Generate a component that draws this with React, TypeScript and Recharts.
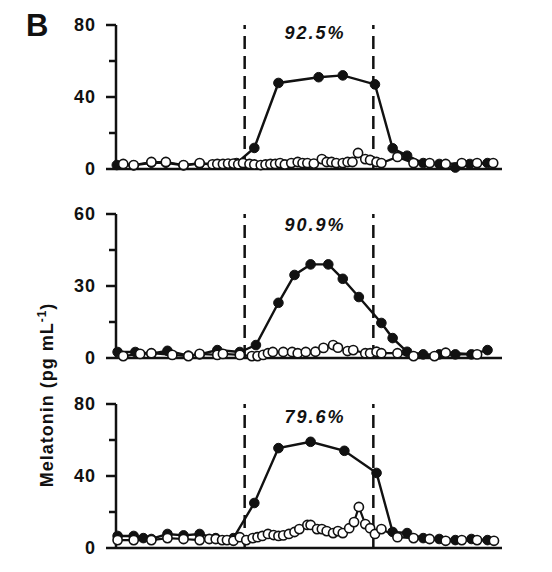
import { Line, LineChart, ReferenceLine, XAxis, YAxis } from "recharts";

// clock hours across the 24 h record, lights off 8 -> 16
const hourTicks = [0, 4, 8, 12, 16, 20, 24];
const darkStart = 8;
const darkEnd = 16;

// panel 1 (suppression 92.5%)
const p1OpenHour = [0.45, 1.1, 2.2, 3.1, 4.2, 5.2, 6.0, 6.3, 6.65, 6.97, 7.3, 7.6, 7.9, 8.3, 8.6, 9.0, 9.3, 9.6, 9.9, 10.2, 10.5, 10.9, 11.3, 11.6, 11.9, 12.3, 12.8, 13.1, 13.4, 13.7, 14.1, 14.4, 14.7, 15.05, 15.5, 15.8, 16.2, 16.5, 17.5, 18.5, 19.5, 20.5, 21.5, 22.45, 23.45];
const p1OpenVal = [2.8, 2.2, 3.9, 3.9, 2.2, 3.3, 2.6, 2.8, 2.8, 3.0, 3.0, 2.6, 3.3, 2.8, 2.5, 2.2, 2.5, 2.8, 2.8, 3.3, 2.5, 3.3, 3.9, 3.3, 3.3, 3.0, 5.5, 3.9, 3.9, 3.3, 3.3, 3.9, 3.9, 8.9, 5.5, 5.0, 3.9, 3.3, 6.7, 3.3, 3.3, 2.8, 3.3, 3.3, 3.3];
const p1DarkHour = [0.05, 1.1, 2.2, 3.1, 4.2, 5.2, 6.3, 7.5, 8.6, 10.1, 12.6, 14.1, 16.1, 17.2, 18.1, 19.1, 20.1, 21.1, 22.0, 23.1];
const p1DarkVal = [2.2, 2.0, 3.5, 3.5, 2.0, 3.0, 2.5, 3.3, 11.7, 47.8, 51, 52, 47, 11.5, 7.4, 3.3, 2.8, 0.8, 2.8, 3.3];

// panel 2 (suppression 90.9%)
const p2OpenHour = [0.45, 1.5, 2.2, 3.5, 4.5, 5.2, 6.3, 6.65, 7.7, 8.45, 8.8, 9.15, 9.45, 9.75, 10.4, 10.95, 11.3, 11.8, 12.4, 12.9, 13.5, 13.8, 14.4, 14.75, 15.5, 15.8, 16.2, 16.5, 17.5, 18.5, 19.8, 20.5, 22.45];
const p2OpenVal = [0.8, 1.7, 2.0, 1.3, 0.8, 1.7, 1.3, 1.7, 1.3, 0.8, 0.8, 1.3, 2.0, 2.5, 2.5, 2.5, 2.0, 2.5, 2.6, 4.2, 5.4, 4.3, 2.9, 3.3, 2.0, 2.0, 2.6, 2.0, 2.0, 0.8, 0.8, 2.2, 1.5];
const p2DarkHour = [0.1, 1.2, 2.2, 3.2, 4.5, 5.2, 6.3, 7.7, 8.7, 10.1, 11.1, 12.1, 13.2, 14.1, 15.1, 16.5, 17.2, 18.1, 19.1, 20.1, 21.1, 22.1, 23.1];
const p2DarkVal = [2.5, 2.5, 1.8, 3.0, 1.0, 1.5, 3.3, 2.5, 5.4, 23, 34.6, 39, 39, 33, 25.4, 14.6, 8.3, 2.6, 1.5, 1.5, 1.5, 1.5, 3.3];

// panel 3 (suppression 79.6%)
const p3OpenHour = [0.1, 1.1, 2.2, 3.2, 4.2, 5.2, 5.8, 6.2, 6.6, 6.9, 7.3, 7.7, 8.1, 8.5, 8.8, 9.1, 9.45, 9.8, 10.1, 10.4, 10.75, 11.1, 11.4, 11.9, 12.1, 12.5, 12.8, 13.1, 13.5, 13.8, 14.1, 14.5, 14.8, 15.1, 15.5, 15.8, 16.1, 16.5, 17.5, 18.5, 19.5, 20.5, 21.5, 22.45, 23.5];
const p3OpenVal = [4.4, 4.4, 4.4, 5.5, 5.0, 4.4, 5.0, 5.0, 4.4, 4.4, 4.0, 6.0, 4.4, 5.5, 6.0, 6.7, 7.8, 7.2, 6.7, 7.0, 7.8, 8.9, 10.5, 12.8, 12.8, 10.5, 10.5, 9.4, 8.3, 9.4, 8.3, 11, 14.4, 22.8, 13.3, 11, 7.8, 10.5, 6.0, 5.5, 5.0, 4.0, 4.4, 4.4, 4.0];
const p3DarkHour = [0.1, 1.1, 1.7, 2.2, 3.2, 4.2, 5.2, 6.2, 7.3, 8.6, 10.1, 12.1, 14.2, 16.2, 17.2, 18.1, 19.1, 20.1, 21.1, 22.1, 23.1];
const p3DarkVal = [6.7, 6.7, 5.5, 5.0, 7.8, 7.0, 7.8, 5.5, 5.5, 25, 55.5, 59, 54, 41.7, 8.9, 8.3, 5.5, 5.0, 4.4, 5.0, 4.4];

const font = "'Liberation Sans', Arial, Helvetica, sans-serif";
const ink = "#111";

const zip = (hours: number[], vals: number[]) => hours.map((t, i) => ({ t, v: vals[i] }));

const makeYTick = (labeled: number[]) => (props: any) => {
  const { x, y, payload } = props;
  const major = labeled.includes(payload.value);
  return (
    <g>
      <line x1={x - (major ? 10 : 7)} x2={x} y1={y} y2={y} stroke={ink} strokeWidth={2.5} />
      {major && (
        <text x={x - 20} y={y} dy="0.36em" textAnchor="end" fontFamily={font} fontWeight="bold" fontSize={18} letterSpacing={1} fill={ink}>
          {payload.value}
        </text>
      )}
    </g>
  );
};

type PanelProps = {
  top: number;
  open: { t: number; v: number }[];
  dark: { t: number; v: number }[];
  yMax: number;
  yTicks: number[];
  yLabeled: number[];
};

function Panel({ top, open, dark, yMax, yTicks, yLabeled }: PanelProps) {
  return (
    <div style={{ position: "absolute", left: 0, top }}>
      <LineChart width={552} height={190} margin={{ top: 25, right: 50, bottom: 9, left: 0 }}>
        <XAxis
          type="number"
          dataKey="t"
          domain={[0, 24]}
          ticks={hourTicks}
          tick={false}
          tickSize={9}
          height={12}
          axisLine={{ stroke: ink, strokeWidth: 2.5 }}
          tickLine={{ stroke: ink, strokeWidth: 2.5 }}
        />
        <YAxis
          type="number"
          domain={[0, yMax]}
          ticks={yTicks}
          width={116}
          tickSize={0}
          tickMargin={0}
          tickLine={false}
          tick={makeYTick(yLabeled)}
          axisLine={{ stroke: ink, strokeWidth: 2.5 }}
        />
        <ReferenceLine x={darkStart} stroke={ink} strokeWidth={2.5} strokeDasharray="13 7" />
        <ReferenceLine x={darkEnd} stroke={ink} strokeWidth={2.5} strokeDasharray="13 7" />
        <Line
          data={dark}
          dataKey="v"
          stroke={ink}
          strokeWidth={2.4}
          dot={{ r: 4.8, fill: ink, stroke: ink, strokeWidth: 1 }}
          activeDot={false}
          isAnimationActive={false}
        />
        <Line
          data={open}
          dataKey="v"
          stroke={ink}
          strokeWidth={2.2}
          dot={{ r: 4.6, fill: "#fff", stroke: ink, strokeWidth: 1.6 }}
          activeDot={false}
          isAnimationActive={false}
        />
      </LineChart>
    </div>
  );
}

export default function App() {
  const pct = { fontFamily: font, fontWeight: "bold", fontStyle: "italic", fontSize: 18, letterSpacing: 2, fill: ink } as const;
  return (
    <div style={{ position: "absolute", left: 0, top: 0, width: 552, height: 572, background: "#fff" }}>
      <Panel top={0} open={zip(p1OpenHour, p1OpenVal)} dark={zip(p1DarkHour, p1DarkVal)} yMax={80} yTicks={[0, 20, 40, 60, 80]} yLabeled={[0, 40, 80]} />
      <Panel top={189} open={zip(p2OpenHour, p2OpenVal)} dark={zip(p2DarkHour, p2DarkVal)} yMax={60} yTicks={[0, 15, 30, 45, 60]} yLabeled={[0, 30, 60]} />
      <Panel top={379} open={zip(p3OpenHour, p3OpenVal)} dark={zip(p3DarkHour, p3DarkVal)} yMax={80} yTicks={[0, 20, 40, 60, 80]} yLabeled={[0, 40, 80]} />
      <svg width={552} height={572} style={{ position: "absolute", left: 0, top: 0, pointerEvents: "none" }}>
        <text x={26} y={36} fontFamily={font} fontWeight="bold" fontSize={31} fill={ink}>B</text>
        <text x={315} y={39} textAnchor="middle" {...pct}>92.5%</text>
        <text x={315} y={231} textAnchor="middle" {...pct}>90.9%</text>
        <text x={315} y={423} textAnchor="middle" {...pct}>79.6%</text>
        <text transform="translate(53,395) rotate(-90)" textAnchor="middle" fontFamily={font} fontWeight="bold" fontSize={18} letterSpacing={1} fill={ink}>
          Melatonin (pg mL<tspan fontSize={12} dy={-7}>-1</tspan><tspan dy={7}>)</tspan>
        </text>
      </svg>
    </div>
  );
}
